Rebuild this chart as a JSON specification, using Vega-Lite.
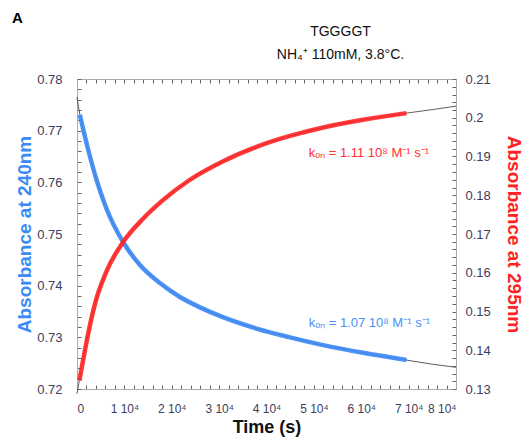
{
  "$schema": "https://vega.github.io/schema/vega-lite/v6.json",
  "width": 379,
  "height": 310,
  "autosize": "none",
  "padding": {"left": 77, "top": 79, "right": 74, "bottom": 57},
  "title": {
    "text": "A",
    "anchor": "start",
    "frame": "group",
    "dx": -65,
    "offset": -2,
    "fontSize": 15,
    "fontWeight": "bold",
    "font": "Liberation Sans",
    "color": "#000"
  },
  "config": {
    "view": {"stroke": "#aaaaaa", "strokeWidth": 1},
    "axis": {
      "grid": false,
      "domainColor": "#aaaaaa",
      "tickColor": "#666666",
      "tickWidth": 1,
      "tickSize": -4,
      "labelColor": "#3d3d5c",
      "labelFont": "Liberation Sans",
      "labelFontSize": 13,
      "labelOverlap": false,
      "titleFont": "Liberation Sans",
      "titleFontWeight": "bold"
    }
  },
  "layer": [
    {
      "data": {
        "values": [
          {"t": 0, "a": 0.7765, "kind": "fit"},
          {"t": 600, "a": 0.7731, "kind": "fit"},
          {"t": 1690, "a": 0.7688, "kind": "fit"},
          {"t": 2740, "a": 0.7650, "kind": "fit"},
          {"t": 4150, "a": 0.7604, "kind": "fit"},
          {"t": 6270, "a": 0.7548, "kind": "fit"},
          {"t": 9770, "a": 0.7484, "kind": "fit"},
          {"t": 13290, "a": 0.7440, "kind": "fit"},
          {"t": 17510, "a": 0.7405, "kind": "fit"},
          {"t": 21730, "a": 0.7378, "kind": "fit"},
          {"t": 25950, "a": 0.7358, "kind": "fit"},
          {"t": 30800, "a": 0.7339, "kind": "fit"},
          {"t": 37900, "a": 0.7317, "kind": "fit"},
          {"t": 44940, "a": 0.7300, "kind": "fit"},
          {"t": 51960, "a": 0.7285, "kind": "fit"},
          {"t": 60400, "a": 0.7270, "kind": "fit"},
          {"t": 69560, "a": 0.7256, "kind": "fit"},
          {"t": 75000, "a": 0.7248, "kind": "fit"},
          {"t": 80000, "a": 0.7242, "kind": "fit"},
          {"t": 600, "a": 0.7731, "kind": "data"},
          {"t": 1690, "a": 0.7688, "kind": "data"},
          {"t": 2740, "a": 0.7650, "kind": "data"},
          {"t": 4150, "a": 0.7604, "kind": "data"},
          {"t": 6270, "a": 0.7548, "kind": "data"},
          {"t": 9770, "a": 0.7484, "kind": "data"},
          {"t": 13290, "a": 0.7440, "kind": "data"},
          {"t": 17510, "a": 0.7405, "kind": "data"},
          {"t": 21730, "a": 0.7378, "kind": "data"},
          {"t": 25950, "a": 0.7358, "kind": "data"},
          {"t": 30800, "a": 0.7339, "kind": "data"},
          {"t": 37900, "a": 0.7317, "kind": "data"},
          {"t": 44940, "a": 0.7300, "kind": "data"},
          {"t": 51960, "a": 0.7285, "kind": "data"},
          {"t": 60400, "a": 0.7270, "kind": "data"},
          {"t": 69560, "a": 0.7256, "kind": "data"}
        ]
      },
      "encoding": {
        "x": {
          "field": "t",
          "type": "quantitative",
          "scale": {"domain": [0, 80000], "nice": false},
          "axis": {
            "orient": "bottom",
            "title": "Time (s)",
            "titleFontSize": 18,
            "titleColor": "#111",
            "titleY": 38,
            "titleBaseline": "middle",
            "values": [0, 2000, 4000, 6000, 8000, 10000, 12000, 14000, 16000, 18000, 20000, 22000, 24000, 26000, 28000, 30000, 32000, 34000, 36000, 38000, 40000, 42000, 44000, 46000, 48000, 50000, 52000, 54000, 56000, 58000, 60000, 62000, 64000, 66000, 68000, 70000, 72000, 74000, 76000, 78000, 80000],
            "labelExpr": "datum.value % 10000 === 0 ? (datum.value === 0 ? '0' : (datum.value / 10000) + ' 10⁴') : ''",
            "labelPadding": 18,
            "labelFontSize": 12
          }
        },
        "y": {
          "field": "a",
          "type": "quantitative",
          "scale": {"domain": [0.72, 0.78], "nice": false, "zero": false},
          "axis": {
            "orient": "left",
            "title": "Absorbance at 240nm",
            "titleColor": "#3b8af5",
            "titleFontSize": 19,
            "titleX": -53,
            "titleBaseline": "middle",
            "values": [0.72, 0.722, 0.724, 0.726, 0.728, 0.73, 0.732, 0.734, 0.736, 0.738, 0.74, 0.742, 0.744, 0.746, 0.748, 0.75, 0.752, 0.754, 0.756, 0.758, 0.76, 0.762, 0.764, 0.766, 0.768, 0.77, 0.772, 0.774, 0.776, 0.778, 0.78],
            "labelExpr": "abs(datum.value * 100 - round(datum.value * 100)) < 0.001 ? format(datum.value, '.2f') : ''",
            "labelPadding": 19
          }
        }
      },
      "layer": [
        {
          "transform": [{"filter": "datum.kind === 'fit'"}],
          "mark": {"type": "line", "color": "#333333", "strokeWidth": 0.8, "interpolate": "monotone"}
        },
        {
          "transform": [{"filter": "datum.kind === 'data'"}],
          "mark": {"type": "line", "color": "#3b87f5", "strokeWidth": 4.5, "opacity": 0.9, "interpolate": "monotone"}
        },
        {
          "data": {"values": [{"t": 48900, "a": 0.7327, "label": "kₒₙ = 1.07 10⁸ M⁻¹ s⁻¹"}]},
          "mark": {"type": "text", "align": "left", "baseline": "middle", "color": "#4a8ff5", "fontSize": 13, "font": "Liberation Sans"},
          "encoding": {"text": {"field": "label"}}
        }
      ]
    },
    {
      "data": {
        "values": [
          {"t": 0, "a": 0.1288, "kind": "fit"},
          {"t": 500, "a": 0.1322, "kind": "fit"},
          {"t": 1340, "a": 0.1378, "kind": "fit"},
          {"t": 2740, "a": 0.1465, "kind": "fit"},
          {"t": 4150, "a": 0.1535, "kind": "fit"},
          {"t": 6270, "a": 0.1605, "kind": "fit"},
          {"t": 9770, "a": 0.1680, "kind": "fit"},
          {"t": 13990, "a": 0.1740, "kind": "fit"},
          {"t": 18200, "a": 0.1788, "kind": "fit"},
          {"t": 23840, "a": 0.1840, "kind": "fit"},
          {"t": 30860, "a": 0.1888, "kind": "fit"},
          {"t": 37900, "a": 0.1925, "kind": "fit"},
          {"t": 44940, "a": 0.1953, "kind": "fit"},
          {"t": 51960, "a": 0.1975, "kind": "fit"},
          {"t": 60400, "a": 0.1995, "kind": "fit"},
          {"t": 69560, "a": 0.2012, "kind": "fit"},
          {"t": 75000, "a": 0.2021, "kind": "fit"},
          {"t": 80000, "a": 0.2030, "kind": "fit"},
          {"t": 500, "a": 0.1322, "kind": "data"},
          {"t": 1340, "a": 0.1378, "kind": "data"},
          {"t": 2740, "a": 0.1465, "kind": "data"},
          {"t": 4150, "a": 0.1535, "kind": "data"},
          {"t": 6270, "a": 0.1605, "kind": "data"},
          {"t": 9770, "a": 0.1680, "kind": "data"},
          {"t": 13990, "a": 0.1740, "kind": "data"},
          {"t": 18200, "a": 0.1788, "kind": "data"},
          {"t": 23840, "a": 0.1840, "kind": "data"},
          {"t": 30860, "a": 0.1888, "kind": "data"},
          {"t": 37900, "a": 0.1925, "kind": "data"},
          {"t": 44940, "a": 0.1953, "kind": "data"},
          {"t": 51960, "a": 0.1975, "kind": "data"},
          {"t": 60400, "a": 0.1995, "kind": "data"},
          {"t": 69560, "a": 0.2012, "kind": "data"}
        ]
      },
      "encoding": {
        "x": {
          "field": "t",
          "type": "quantitative",
          "scale": {"domain": [0, 80000], "nice": false},
          "axis": {
            "orient": "top",
            "title": ["TGGGGT", "NH₄⁺ 110mM, 3.8°C."],
            "titleFontSize": 14,
            "titleFontWeight": "normal",
            "titleColor": "#111",
            "titleX": 263,
            "titleY": -48,
            "titleAlign": "center",
            "titleBaseline": "middle",
            "titleLineHeight": 23,
            "titleAngle": 0,
            "labels": false,
            "values": [0, 2000, 4000, 6000, 8000, 10000, 12000, 14000, 16000, 18000, 20000, 22000, 24000, 26000, 28000, 30000, 32000, 34000, 36000, 38000, 40000, 42000, 44000, 46000, 48000, 50000, 52000, 54000, 56000, 58000, 60000, 62000, 64000, 66000, 68000, 70000, 72000, 74000, 76000, 78000, 80000]
          }
        },
        "y": {
          "field": "a",
          "type": "quantitative",
          "scale": {"domain": [0.13, 0.21], "nice": false, "zero": false},
          "axis": {
            "orient": "right",
            "title": "Absorbance at 295nm",
            "titleColor": "#ff2222",
            "titleFontSize": 19,
            "titleX": 57,
            "titleBaseline": "middle",
            "values": [0.13, 0.132, 0.134, 0.136, 0.138, 0.14, 0.142, 0.144, 0.146, 0.148, 0.15, 0.152, 0.154, 0.156, 0.158, 0.16, 0.162, 0.164, 0.166, 0.168, 0.17, 0.172, 0.174, 0.176, 0.178, 0.18, 0.182, 0.184, 0.186, 0.188, 0.19, 0.192, 0.194, 0.196, 0.198, 0.2, 0.202, 0.204, 0.206, 0.208, 0.21],
            "labelExpr": "abs(datum.value * 100 - round(datum.value * 100)) < 0.001 ? format(datum.value, '.2~f') : ''",
            "labelPadding": 13
          }
        }
      },
      "layer": [
        {
          "transform": [{"filter": "datum.kind === 'fit'"}],
          "mark": {"type": "line", "color": "#333333", "strokeWidth": 0.8, "interpolate": "monotone"}
        },
        {
          "transform": [{"filter": "datum.kind === 'data'"}],
          "mark": {"type": "line", "color": "#ff2424", "strokeWidth": 4.5, "opacity": 0.9, "interpolate": "monotone"}
        },
        {
          "data": {"values": [{"t": 48900, "a": 0.191, "label": "kₒₙ = 1.11 10⁸ M⁻¹ s⁻¹"}]},
          "mark": {"type": "text", "align": "left", "baseline": "middle", "color": "#ff3030", "fontSize": 13, "font": "Liberation Sans"},
          "encoding": {"text": {"field": "label"}}
        }
      ]
    }
  ],
  "resolve": {"scale": {"y": "independent"}, "axis": {"x": "independent"}}
}
